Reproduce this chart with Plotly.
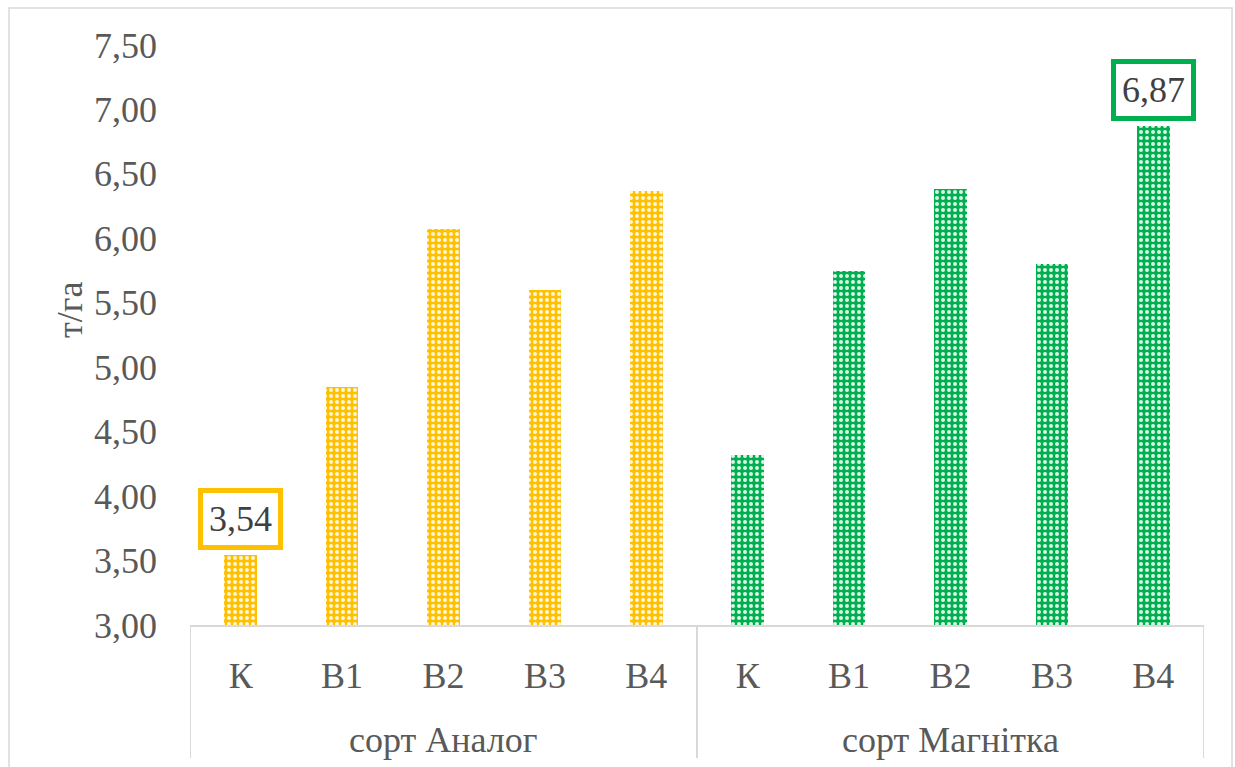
import plotly.graph_objects as go

# Yield by variety and treatment variant, t/ha
variants = ["К", "В1", "В2", "В3", "В4"]
varieties = ["сорт Аналог", "сорт Магнітка"]
yield_analog = [3.54, 4.85, 6.07, 5.60, 6.37]
yield_magnitka = [4.32, 5.75, 6.38, 5.80, 6.87]
colors = ["#FFC000", "#00B050"]
y_ticks = [3.0, 3.5, 4.0, 4.5, 5.0, 5.5, 6.0, 6.5, 7.0, 7.5]

W, H = 1235, 767
L, R, T, B = 190, 31, 45, 142
plot_w = W - L - R
plot_h = H - T - B

FONT = "Liberation Serif"
TXT = "#595959"
LINE = "#D9D9D9"
FS = 36

n = len(variants)
x_analog = list(range(n))
x_magnitka = list(range(n, 2 * n))

fig = go.Figure()
for xs, ys, col, name in [(x_analog, yield_analog, colors[0], varieties[0]),
                          (x_magnitka, yield_magnitka, colors[1], varieties[1])]:
    fig.add_trace(go.Bar(
        x=xs, y=ys, name=name, width=0.32,
        marker=dict(
            color=col,
            line=dict(width=0),
            pattern=dict(shape=".", bgcolor=col, fgcolor="white",
                         fgopacity=0.85, size=6, solidity=0.35),
        ),
        showlegend=False,
    ))

# value callouts for the minimum and maximum
def fmt(v):
    return f"{v:.2f}".replace(".", ",")

for xv, yv, col in [(x_analog[0], yield_analog[0], colors[0]),
                    (x_magnitka[-1], yield_magnitka[-1], colors[1])]:
    fig.add_annotation(
        x=xv, y=yv, xref="x", yref="y", text=fmt(yv), showarrow=False,
        yanchor="bottom", yshift=5,
        font=dict(family=FONT, size=FS, color="#404040"),
        bgcolor="white", bordercolor=col, borderwidth=5, borderpad=6,
    )

# group labels under the variant labels
for g, xs in zip(varieties, [x_analog, x_magnitka]):
    fig.add_annotation(
        x=sum(xs) / len(xs), y=-(740 - (T + plot_h)) / plot_h,
        xref="x", yref="paper", text=g, showarrow=False,
        yanchor="middle", font=dict(family=FONT, size=FS, color=TXT),
    )

# dividers of the category table
for xd in [-0.5, n - 0.5, 2 * n - 0.5]:
    fig.add_shape(type="line", xref="x", yref="paper",
                  x0=xd, x1=xd, y0=0, y1=-(758 - (T + plot_h)) / plot_h,
                  line=dict(color=LINE, width=2))

# y axis title
fig.add_annotation(
    x=(70 - L) / plot_w, y=(T + plot_h - 310) / plot_h, xref="paper", yref="paper",
    xanchor="center", yanchor="middle",
    text="т/га", textangle=-90, showarrow=False,
    font=dict(family=FONT, size=FS, color=TXT),
)

# chart frame
fig.add_shape(type="rect", xref="paper", yref="paper",
              x0=(9 - L) / plot_w, x1=(1232 - L) / plot_w,
              y0=-(790 - (T + plot_h)) / plot_h, y1=(T + plot_h - 8) / plot_h,
              line=dict(color=LINE, width=1.5), fillcolor="rgba(0,0,0,0)", layer="below")

fig.update_layout(
    width=W, height=H,
    margin=dict(l=L, r=R, t=T, b=B, autoexpand=False),
    paper_bgcolor="white", plot_bgcolor="white",
    separators=", ",
    bargap=0,
    xaxis=dict(
        range=[-0.5, 2 * n - 0.5],
        tickmode="array",
        tickvals=x_analog + x_magnitka,
        ticktext=variants + variants,
        showgrid=False, zeroline=False,
        showline=True, linecolor=LINE, linewidth=2,
        ticks="", ticklabelstandoff=18,
        tickfont=dict(family=FONT, size=FS, color=TXT),
        fixedrange=True,
    ),
    yaxis=dict(
        range=[3.0, 7.5],
        tickmode="array", tickvals=y_ticks,
        tickformat=".2f",
        showgrid=False, zeroline=False, showline=False,
        ticks="", ticklabelstandoff=32,
        tickfont=dict(family=FONT, size=FS, color=TXT),
        fixedrange=True,
    ),
)

fig.write_html("out.html")
